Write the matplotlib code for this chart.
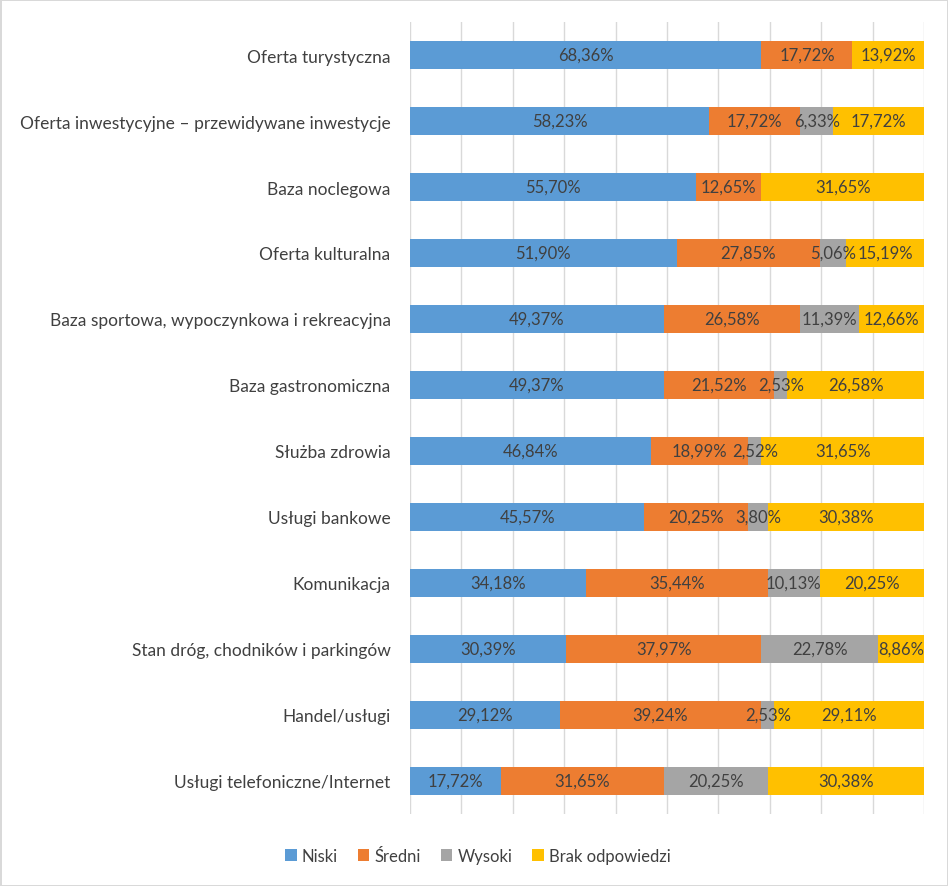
import matplotlib
matplotlib.use("Agg")
from matplotlib import pyplot as plt
import numpy as np

plt.rcParams['font.family'] = ['Lato', 'DejaVu Sans']

categories = [
    "Oferta turystyczna",
    "Oferta inwestycyjne – przewidywane inwestycje",
    "Baza noclegowa",
    "Oferta kulturalna",
    "Baza sportowa, wypoczynkowa i rekreacyjna",
    "Baza gastronomiczna",
    "Służba zdrowia",
    "Usługi bankowe",
    "Komunikacja",
    "Stan dróg, chodników i parkingów",
    "Handel/usługi",
    "Usługi telefoniczne/Internet",
]
niski = [68.36, 58.23, 55.70, 51.90, 49.37, 49.37, 46.84, 45.57, 34.18, 30.39, 29.12, 17.72]
sredni = [17.72, 17.72, 12.65, 27.85, 26.58, 21.52, 18.99, 20.25, 35.44, 37.97, 39.24, 31.65]
wysoki = [0, 6.33, 0, 5.06, 11.39, 2.53, 2.52, 3.80, 10.13, 22.78, 2.53, 20.25]
brak = [13.92, 17.72, 31.65, 15.19, 12.66, 26.58, 31.65, 30.38, 20.25, 8.86, 29.11, 30.38]

series = [("Niski", niski, "#5B9BD5"),
          ("Średni", sredni, "#ED7D31"),
          ("Wysoki", wysoki, "#A5A5A5"),
          ("Brak odpowiedzi", brak, "#FFC000")]

fig = plt.figure(figsize=(9.48, 8.87), dpi=100, edgecolor="#D9D9D9", linewidth=2)
ax = fig.add_axes([410 / 948, 1 - 815 / 887, 514 / 948, 792 / 887])

y = np.arange(len(categories))
left = np.zeros(len(categories))
for name, vals, color in series:
    vals = np.array(vals)
    bars = ax.barh(y, vals, left=left, height=0.42, color=color, label=name, zorder=2)
    labels = ["{:.2f}%".format(v).replace(".", ",") if v > 0 else "" for v in vals]
    ax.bar_label(bars, labels=labels, label_type="center", color="#404040", fontsize=12)
    left += vals

ax.set_xlim(0, 100)
ax.set_ylim(len(categories) - 0.5, -0.5)
ax.set_xticks(np.arange(0, 101, 10))
ax.set_xticklabels([])
ax.set_yticks(y)
ax.set_yticklabels(categories, color="#404040", fontsize=12.5)
ax.tick_params(length=0, pad=14)
ax.grid(axis="x", color="#D9D9D9", linewidth=1, zorder=0)
for s in ax.spines.values():
    s.set_visible(False)

fig.legend(loc="center", bbox_to_anchor=(0.504, 1 - 857 / 887), ncol=4, frameon=False,
           handlelength=0.7, handleheight=0.7, handletextpad=0.3, columnspacing=1.2,
           fontsize=12, labelcolor="#404040")

plt.savefig("out.png", dpi=100, edgecolor=fig.get_edgecolor())
